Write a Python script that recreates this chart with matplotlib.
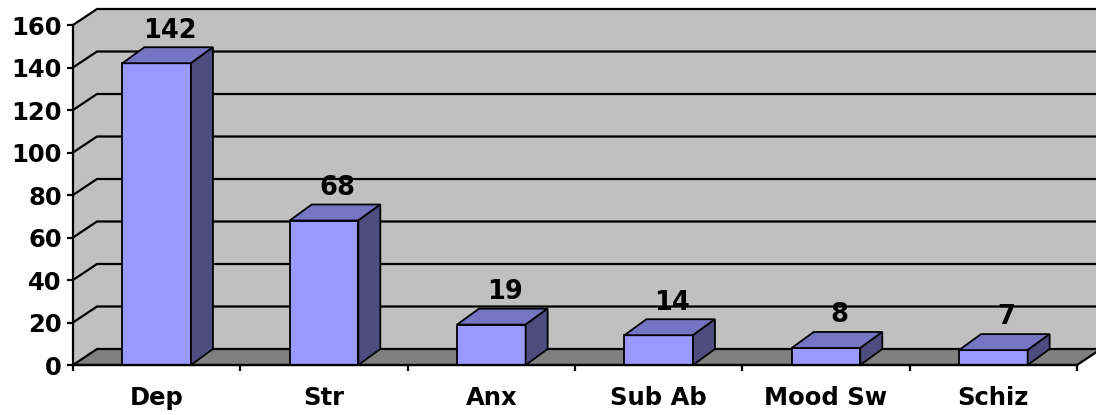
import matplotlib
matplotlib.use("Agg")
import matplotlib.pyplot as plt
from matplotlib.patches import Polygon

categories = ["Dep", "Str", "Anx", "Sub Ab", "Mood Sw", "Schiz"]
counts = [142, 68, 19, 14, 8, 7]
y_ticks = list(range(0, 161, 20))

# classic spreadsheet 3-D column palette
WALL = "#C0C0C0"
FLOOR = "#808080"
FRONT = "#9999FF"
TOP = "#7575C4"
SIDE = "#4D4D80"

W, H = 1096, 415
fig = plt.figure(figsize=(W / 100, H / 100), dpi=100)
# axes box = the front plane of the 3-D chart
ax = fig.add_axes([73 / W, 50 / H, 1004 / W, 340 / H])
n = len(categories)
ymax = y_ticks[-1]
ax.set_xlim(-0.5, n - 0.5)
ax.set_ylim(0, ymax)
ax.patch.set_visible(False)

# depth offsets (pixels -> data units)
ux = n / 1004
uy = ymax / 340
wdx, wdy = 24 * ux, 16 * uy   # walls / floor
bdx, bdy = 22 * ux, 16 * uy   # columns

x0, x1 = -0.5, n - 0.5


def poly(pts, fc, ec="none", lw=0, z=1):
    ax.add_patch(Polygon(pts, closed=True, facecolor=fc, edgecolor=ec, lw=lw,
                         zorder=z, clip_on=False))


# side wall, back wall, floor
poly([(x0, 0), (x0 + wdx, wdy), (x0 + wdx, ymax + wdy), (x0, ymax)], WALL, z=0)
poly([(x0 + wdx, wdy), (x1 + wdx * 2, wdy), (x1 + wdx * 2, ymax + wdy),
      (x0 + wdx, ymax + wdy)], WALL, z=0)
for v in y_ticks[1:]:
    ax.plot([x0, x0 + wdx, x1 + wdx * 2], [v, v + wdy, v + wdy], color="black",
            lw=1.6, zorder=1, clip_on=False, solid_joinstyle="miter")
poly([(x0, 0), (x0 + wdx, wdy), (x1 + wdx, wdy), (x1, 0)], FLOOR, "black", 1.6, z=2)

# columns: front face from ax.bar, then top and side faces
bw = 0.41
xs = list(range(n))
ax.bar(xs, counts, width=bw, color=FRONT, edgecolor="black", lw=1.3, zorder=3)
for x, v in zip(xs, counts):
    l, r = x - bw / 2, x + bw / 2
    poly([(l, v), (l + bdx, v + bdy), (r + bdx, v + bdy), (r, v)], TOP, "black", 1.3, z=3)
    poly([(r, 0), (r + bdx, bdy), (r + bdx, v + bdy), (r, v)], SIDE, "black", 1.3, z=3)
    ax.annotate(str(v), (x + bdx * 0.6, v + bdy), xytext=(0, 7),
                textcoords="offset points", ha="center", va="baseline",
                fontsize=18.5, fontweight="bold", zorder=5)

for side in ("top", "right"):
    ax.spines[side].set_visible(False)
for side in ("left", "bottom"):
    ax.spines[side].set_linewidth(1.6)
    ax.spines[side].set_zorder(6)

ax.set_yticks(y_ticks)
ax.set_yticklabels([str(t) for t in y_ticks], fontsize=17.5, fontweight="bold")
ax.tick_params(axis="y", direction="out", length=4, width=1.6, pad=4)

ax.set_xticks(xs)
ax.set_xticklabels(categories, fontsize=17.5, fontweight="bold")
ax.set_xticks([i - 0.5 for i in range(n + 1)], minor=True)
ax.tick_params(axis="x", which="major", length=0, pad=15)
ax.tick_params(axis="x", which="minor", direction="out", length=4.5, width=1.6)

fig.savefig("out.png", dpi=100)
